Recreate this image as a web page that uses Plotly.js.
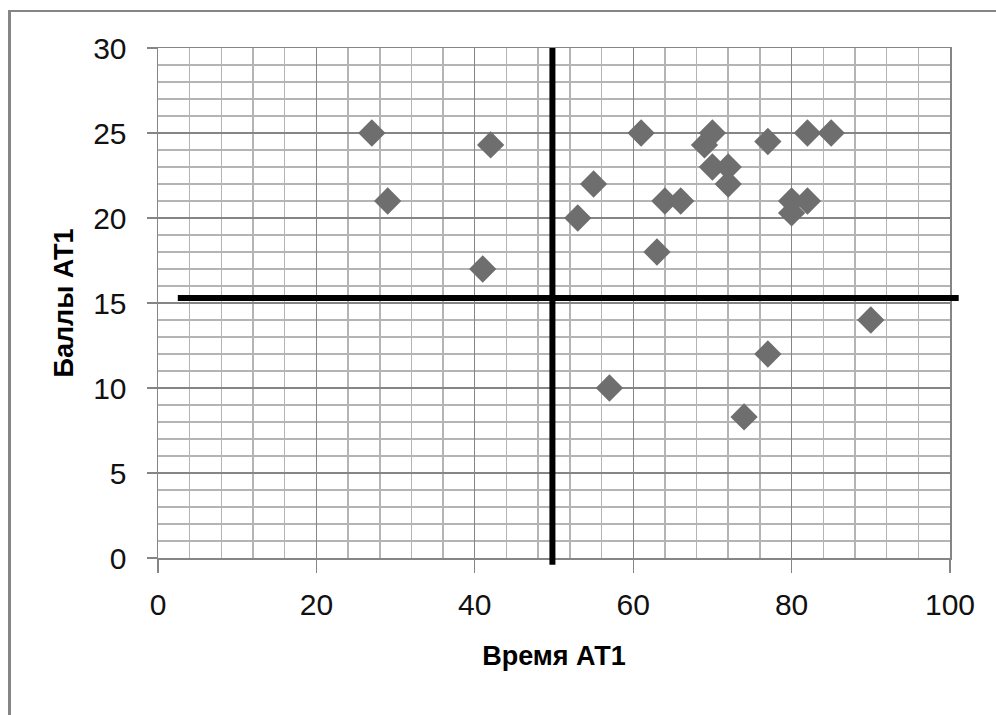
<!DOCTYPE html>
<html>
<head>
<meta charset="utf-8">
<script src="https://cdn.plot.ly/plotly-3.0.1.min.js"></script>
<style>
  html, body { margin: 0; padding: 0; background: #fff; }
  #wrap { position: relative; width: 996px; height: 715px; overflow: hidden; }
  #frame { position: absolute; left: 8px; top: 10px; right: -10px; bottom: -10px;
           border-left: 3px solid #858585; border-top: 2px solid #858585; pointer-events: none; z-index: 5; }
  #chart { position: absolute; left: 0; top: 0; width: 996px; height: 715px; }
</style>
</head>
<body>
<div id="wrap">
  <div id="chart"></div>
  <div id="frame"></div>
</div>
<script>
// Data
const timeAT1 = [27, 29, 41, 42, 53, 55, 57, 61, 63, 64, 66, 69, 70, 70, 72, 72, 74, 77, 77, 80, 80, 82, 82, 85, 90];
const scoreAT1 = [25, 21, 17, 24.3, 20, 22, 10, 25, 18, 21, 21, 24.3, 25, 23, 23, 22, 8.3, 24.5, 12, 21, 20.3, 21, 25, 25, 14];

// Reference (quadrant) lines
const vLineX = 49.8;
const hLineY = 15.3;

const xTitle = 'Время АТ1';
const yTitle = 'Баллы АТ1';

const tickFont = { family: 'Liberation Sans, Arial, sans-serif', size: 30, color: '#111' };
const titleFont = { family: 'Liberation Sans, Arial, sans-serif', size: 27, color: '#000', weight: 'bold' };

const trace = {
  x: timeAT1,
  y: scoreAT1,
  type: 'scatter',
  mode: 'markers',
  marker: { symbol: 'diamond', size: 21, color: '#6e6e6e', line: { width: 0 } },
  hoverinfo: 'x+y',
  showlegend: false,
  cliponaxis: false
};

const layout = {
  width: 996,
  height: 715,
  margin: { l: 158, r: 46, t: 48, b: 157 },
  paper_bgcolor: '#ffffff',
  plot_bgcolor: '#ffffff',
  showlegend: false,
  xaxis: {
    range: [0, 100],
    tickmode: 'linear', tick0: 0, dtick: 20,
    showgrid: true, gridcolor: '#858585', gridwidth: 1.2,
    minor: { dtick: 4, showgrid: true, gridcolor: '#b4b4b4', gridwidth: 1.5, ticks: '' },
    zeroline: false,
    showline: true, linecolor: '#858585', linewidth: 1.5, mirror: true,
    ticks: 'outside', ticklen: 13, tickwidth: 1.2, tickcolor: '#858585',
    ticklabelstandoff: 6,
    tickfont: tickFont,
    title: { text: xTitle, font: titleFont, standoff: 26 },
    automargin: false
  },
  yaxis: {
    range: [0, 30],
    tickmode: 'linear', tick0: 0, dtick: 5,
    showgrid: true, gridcolor: '#858585', gridwidth: 1.2,
    minor: { dtick: 1, showgrid: true, gridcolor: '#b4b4b4', gridwidth: 1.5, ticks: '' },
    zeroline: false,
    showline: true, linecolor: '#858585', linewidth: 1.5, mirror: true,
    ticks: 'outside', ticklen: 10, tickwidth: 1.2, tickcolor: '#858585',
    ticklabelstandoff: 14,
    tickfont: tickFont,
    title: { text: yTitle, font: titleFont, standoff: 11 },
    automargin: false
  },
  shapes: [
    { type: 'line', layer: 'above', xref: 'x', yref: 'paper', x0: vLineX, x1: vLineX, y0: -0.013, y1: 1,
      line: { color: '#000', width: 6 } },
    { type: 'line', layer: 'above', xref: 'paper', yref: 'y', x0: 0.025, x1: 1.011, y0: hLineY, y1: hLineY,
      line: { color: '#000', width: 6 } }
  ]
};

Plotly.newPlot('chart', [trace], layout, { displayModeBar: false, staticPlot: true });
</script>
</body>
</html>
